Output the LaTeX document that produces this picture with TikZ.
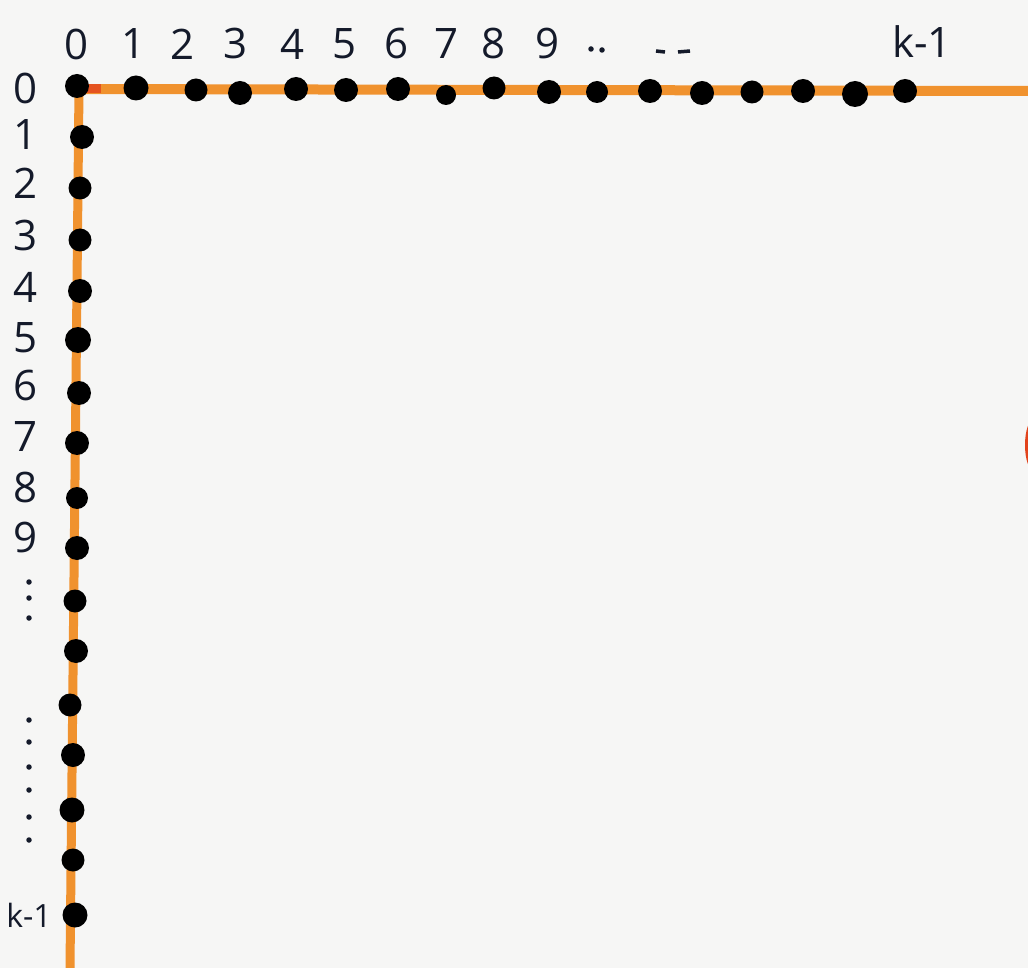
\documentclass[tikz,border=0pt]{standalone}
\usepackage{fontspec}
\setmainfont{Open Sans}
\definecolor{bg}{HTML}{F6F6F5}
\definecolor{axis}{HTML}{F0922E}
\definecolor{ink}{HTML}{141A2A}
\definecolor{blob}{HTML}{E2431C}
\begin{document}
\begin{tikzpicture}[x=1pt,y=-1pt,
  dotnode/.style={circle,fill=black,inner sep=0pt,minimum size=24pt},
  axisline/.style={draw=axis,line width=10pt},
  lbl/.style={text=ink,font=\fontsize{42}{42}\selectfont,inner sep=0pt},
  tick/.style={fill=ink,circle,inner sep=0pt,minimum size=5.5pt}]
\useasboundingbox (0,0) rectangle (1028,968);
\clip (0,0) rectangle (1028,968);
\fill[bg] (0,0) rectangle (1028,968);
% orange blob at right edge
\fill[blob] (1034,445) ellipse (9 and 26);
% axes
\coordinate (corner) at (79,89);
\coordinate (tend) at (1030,91);
\coordinate (lend) at (70,968);
\draw[axisline] (corner) -- (tend);
\draw[axisline,line width=9pt] (corner) -- (lend);
\draw[line width=9pt,draw=blob!80!axis] (corner) -- ++(22,0);
% top dots
\foreach \x/\y/\s [count=\i] in {136/88/25,196/90/23,240/93/24,296/89/24,346/90/24,398/89/24,446/95/20,494/88/23,549/92/24,597/92/22,650/91/24,702/93/24,752/92/23,803/91/24,855/94/26,905/91/24}
  \node[dotnode,minimum size=\s pt] (t\i) at (\x,\y) {};
% left dots
\foreach \x/\y/\s [count=\i] in {82/137/24,80/188/23,80/240/23,80/291/24,78/340/26,79/393/24,77/443/24,77/498/22,77/548/24,75/601/23,76/651/24,70/705/23,73/755/24,72/810/25,73/860/23,75/915/25}
  \node[dotnode,minimum size=\s pt] (l\i) at (\x,\y) {};
\node[dotnode] (o) at (77,86) {};
% top labels
\foreach \x/\t in {77/0,134/1,183/2,236/3,293/4,345/5,397/6,447/7,494/8,548/9}
  \node[lbl] (tl\t) at (\x,44) {\t};
\node[lbl] (tk) at (922,42) {k-1};
\node[tick] (td1) at (591,49) {};
\node[tick] (td2) at (602,50) {};
\draw[ink,line width=3.5pt] (656,51) -- (665,52);
\draw[ink,line width=3.5pt] (678,52) -- (690,51);
% left labels
\foreach \y/\t in {88/0,135/1,183/2,235/3,287/4,338/5,385/6,437/7,487/8,537/9}
  \node[lbl] (ll\t) at (26,\y) {\t};
\node[lbl,font=\fontsize{32}{32}\selectfont] (lk) at (29,915) {k-1};
\foreach \y [count=\i] in {582,598,618,720,742,767,790,817,840}
  \node[tick] (ld\i) at (29,\y) {};
\end{tikzpicture}
\end{document}
